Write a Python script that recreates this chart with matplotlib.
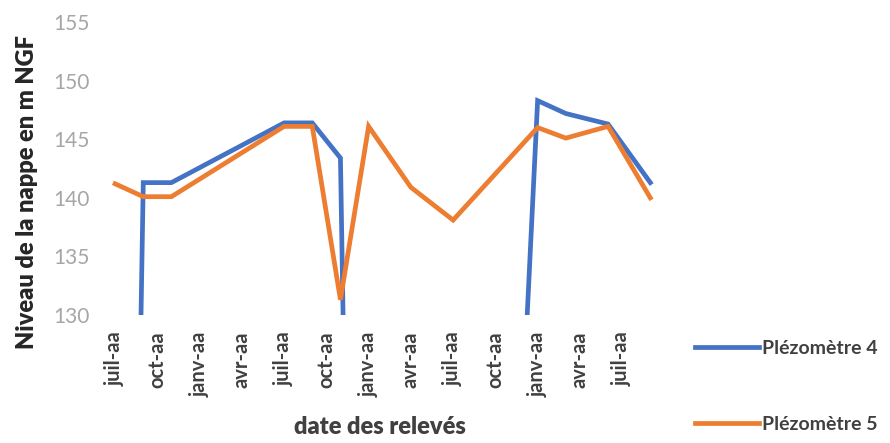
import matplotlib
matplotlib.use("Agg")
import matplotlib.pyplot as plt

# months counted from the first "juil-aa" reading
months = [0, 2, 4, 12, 14, 16, 18, 21, 24, 30, 32, 35, 38]
piezo4 = [0, 141.3, 141.3, 146.4, 146.4, 143.4, 0, 0, 0, 148.3, 147.2, 146.3, 141.3]
piezo5 = [141.2, 140.1, 140.1, 146.1, 146.1, 131.3, 146.1, 140.9, 138.1, 146.0, 145.1, 146.1, 140.0]

tick_months = [0, 3, 6, 9, 12, 15, 18, 21, 24, 27, 30, 33, 36]
tick_labels = ["juil-aa", "oct-aa", "janv-aa", "avr-aa", "juil-aa", "oct-aa", "janv-aa",
               "avr-aa", "juil-aa", "oct-aa", "janv-aa", "avr-aa", "juil-aa"]
y_ticks = [130, 135, 140, 145, 150, 155]

plt.rcParams['font.family'] = ['Lato', 'DejaVu Sans']

BLUE = '#4472C4'
ORANGE = '#ED7D31'

fig = plt.figure(figsize=(8.9, 4.43), dpi=100)
ax = fig.add_axes([0.1135, 0.289, 0.633, 0.661])

l4, = ax.plot(months, piezo4, color=BLUE, lw=3.4, solid_joinstyle='miter',
              label='Plézomètre 4')
l5, = ax.plot(months, piezo5, color=ORANGE, lw=3.4, solid_joinstyle='miter',
              label='Plézomètre 5')

ax.set_xlim(-1, 39)
ax.set_ylim(130, 155)
ax.set_yticks(y_ticks)
ax.set_xticks(tick_months)
ax.set_xticklabels(tick_labels, rotation=90, va='top', ha='center',
                   fontsize=14.5, fontweight='bold', color='#404040')
ax.tick_params(axis='x', length=0, pad=12)
ax.tick_params(axis='y', length=0, pad=8, labelsize=15, labelcolor='#a6a6a6')
for s in ax.spines.values():
    s.set_visible(False)

fig.text(0.03, 0.566, 'Niveau de la nappe en m NGF', rotation=90,
         ha='center', va='center', fontsize=17, fontweight='heavy', color='#262626')
fig.text(0.427, 0.036, 'date des relevés', ha='center', va='center',
         fontsize=17, fontweight='heavy', color='#404040')

fig.legend(handles=[l4, l5], loc='upper left', bbox_to_anchor=(0.781, 0.232),
           frameon=False, borderpad=0, borderaxespad=0, handlelength=3.3,
           handletextpad=0.15, labelspacing=3.0,
           prop={'size': 14, 'weight': 'bold'}, labelcolor='#404040')

fig.savefig('out.png', dpi=100)
